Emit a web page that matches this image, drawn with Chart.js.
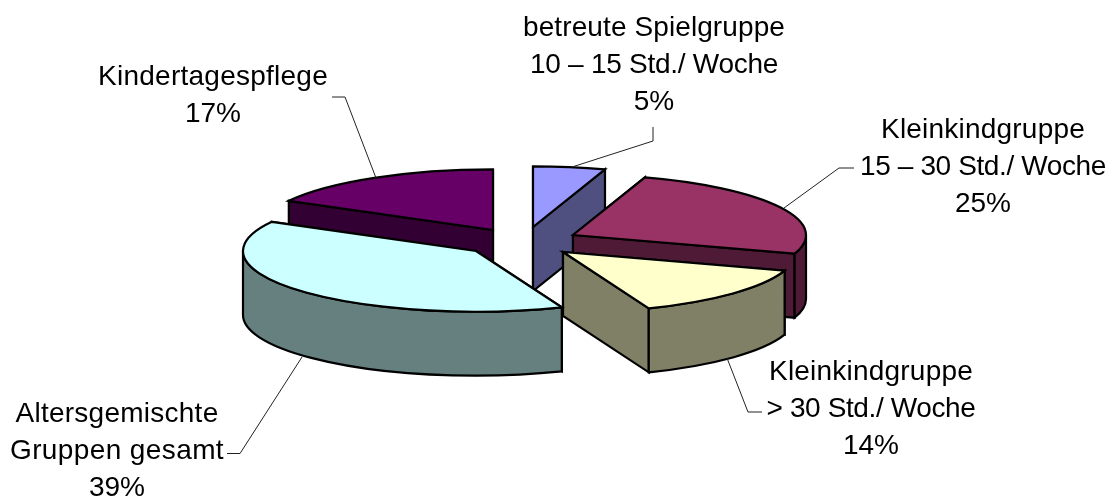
<!DOCTYPE html>
<html>
<head>
<meta charset="utf-8">
<style>
    html, body { margin: 0; padding: 0; background: #fff; }
    #wrap { width: 1112px; height: 500px; }
</style>
<script src="https://cdn.jsdelivr.net/npm/chart.js@4"></script>
</head>
<body>
<div id="wrap"><canvas id="pieChart" width="1112" height="500"></canvas></div>
<script>
// Daten
const categories = [
    ['betreute Spielgruppe', '10 – 15 Std./ Woche'],
    ['Kleinkindgruppe', '15 – 30 Std./ Woche'],
    ['Kleinkindgruppe', '> 30 Std./ Woche'],
    ['Altersgemischte', 'Gruppen gesamt'],
    ['Kindertagespflege']
];
const shares = [5, 25, 14, 39, 17];

// Farben
const topColors = ['#9999ff', '#993366', '#ffffcc', '#ccffff', '#660066'];
const wallColors = ['#4f4f80', '#4f1a35', '#808066', '#668080', '#330033'];

// Darstellung: Verschiebung je Segment, Beschriftung, Führungslinien
const explode = [[23, -13], [63, -5], [53, 12], [-34, 11], [-17, -10]];
const labelAnchors = [[654, 28], [983, 130], [871, 372], [117, 414], [213, 77]];
const labelWidths = [[262, 248], [204, 246], [204, 209], [203, 214], [230]];
const leaders = [
    [[572, 167], [653, 141], [653, 127]],
    [[784, 208], [839, 168], [854, 168]],
    [[727, 358], [748, 412], [762, 412]],
    [[302, 357], [240, 453.5], [227, 453.5]],
    [[376, 178], [345, 97], [332, 97]]
];
const drawOrder = [4, 0, 1, 2, 3];
const SQUASH = 0.26;
const DEPTH = 64;
const LINE_HEIGHT = 37;

function drawFace(ctx, points, color) {
    ctx.beginPath();
    points.forEach((p, i) => i ? ctx.lineTo(p[0], p[1]) : ctx.moveTo(p[0], p[1]));
    ctx.closePath();
    ctx.fillStyle = color;
    ctx.fill();
    ctx.stroke();
}

function drawSlice(ctx, arc, index) {
    const { x, y, startAngle, endAngle, outerRadius: r } = arc.getProps(['x', 'y', 'startAngle', 'endAngle', 'outerRadius'], true);
    const cx = x + explode[index][0];
    const cy = y + explode[index][1];
    const ry = r * SQUASH;
    const rim = a => [cx + r * Math.cos(a), cy + ry * Math.sin(a)];

    // Schnittflächen, die hintere zuerst
    [startAngle, endAngle].sort((a, b) => Math.sin(a) - Math.sin(b)).forEach(a => {
        const p = rim(a);
        drawFace(ctx, [[cx, cy], p, [p[0], p[1] + DEPTH], [cx, cy + DEPTH]], wallColors[index]);
    });

    // Außenwand, nur der vordere Teil der Ellipse
    const from = Math.max(startAngle, 0);
    const to = Math.min(endAngle, Math.PI);
    if (to > from) {
        ctx.beginPath();
        ctx.ellipse(cx, cy, r, ry, 0, from, to);
        ctx.ellipse(cx, cy + DEPTH, r, ry, 0, to, from, true);
        ctx.closePath();
        ctx.fillStyle = wallColors[index];
        ctx.fill();
        ctx.stroke();
    }

    // Deckfläche
    ctx.beginPath();
    ctx.moveTo(cx, cy);
    ctx.ellipse(cx, cy, r, ry, 0, startAngle, endAngle);
    ctx.closePath();
    ctx.fillStyle = topColors[index];
    ctx.fill();
    ctx.stroke();
}

const pie3d = {
    id: 'pie3d',
    beforeDatasetDraw(chart) {
        const ctx = chart.ctx;
        const arcs = chart.getDatasetMeta(0).data;
        ctx.save();
        ctx.strokeStyle = '#000';
        ctx.lineWidth = 2.2;
        ctx.lineJoin = 'miter';
        drawOrder.forEach(i => drawSlice(ctx, arcs[i], i));
        ctx.restore();
        return false;
    },
    afterDraw(chart) {
        const ctx = chart.ctx;
        ctx.save();
        ctx.strokeStyle = '#222';
        ctx.lineWidth = 1;
        leaders.forEach(line => {
            ctx.beginPath();
            line.forEach((p, i) => i ? ctx.lineTo(p[0], p[1]) : ctx.moveTo(p[0], p[1]));
            ctx.stroke();
        });
        ctx.fillStyle = '#000';
        ctx.font = '28px "Liberation Sans", Arial, sans-serif';
        ctx.textAlign = 'center';
        ctx.textBaseline = 'middle';
        categories.forEach((lines, i) => {
            const rows = lines.concat(shares[i] + '%');
            rows.forEach((row, r) => {
                // Laufweite an die Breite im Original anpassen
                ctx.letterSpacing = '0px';
                const target = labelWidths[i][r];
                if (target) {
                    ctx.letterSpacing = ((target - ctx.measureText(row).width) / row.length).toFixed(2) + 'px';
                }
                ctx.fillText(row, labelAnchors[i][0], labelAnchors[i][1] + r * LINE_HEIGHT);
            });
        });
        ctx.restore();
    }
};

new Chart(document.getElementById('pieChart'), {
    type: 'pie',
    data: {
        labels: categories.map(c => c.join(' ')),
        datasets: [{ data: shares, backgroundColor: topColors }]
    },
    options: {
        responsive: false,
        animation: false,
        radius: 233,
        layout: { padding: { right: 92, bottom: 20 } },
        plugins: { legend: { display: false }, tooltip: { enabled: false } }
    },
    plugins: [pie3d]
});
</script>
</body>
</html>
